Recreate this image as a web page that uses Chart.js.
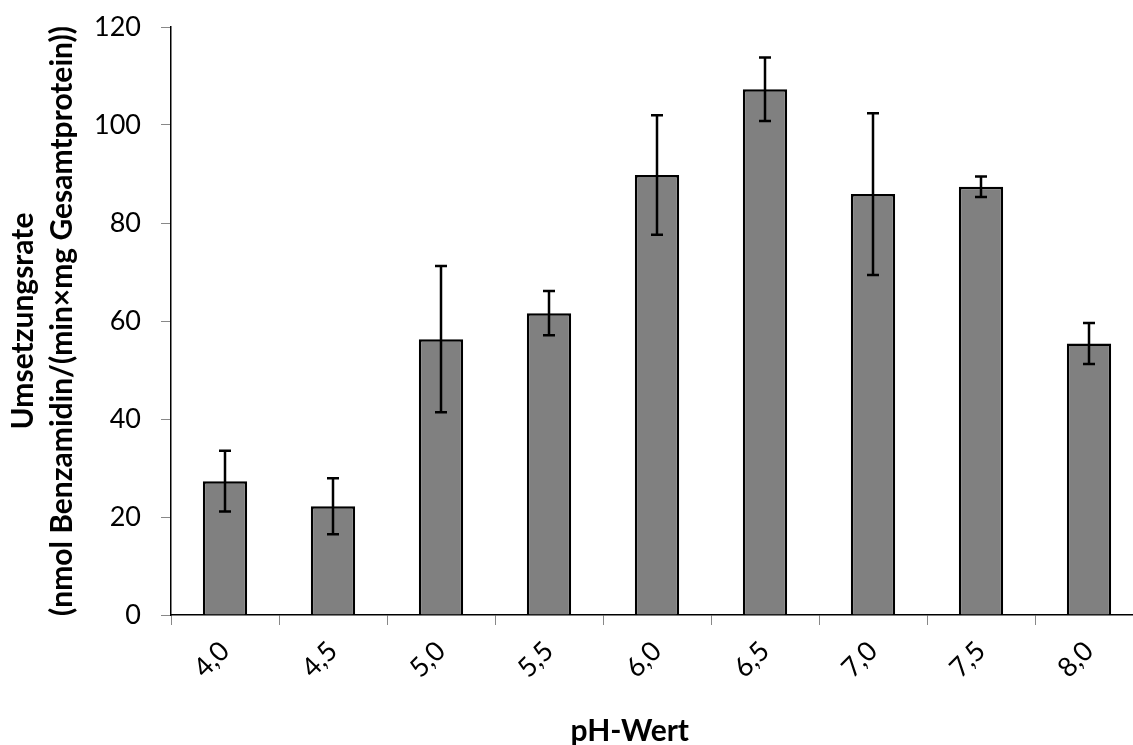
<!DOCTYPE html>
<html>
<head>
<meta charset="utf-8">
<script src="https://cdn.jsdelivr.net/npm/chart.js@4/dist/chart.umd.min.js"></script>
<style>
  html,body{margin:0;padding:0;background:#fff;overflow:hidden;}
  #c{display:block;}
</style>
</head>
<body>
<canvas id="c" width="1150" height="745" style="width:1150px;height:745px"></canvas>
<script>
/* ========= DATA ========= */
const PH     = ["4,0","4,5","5,0","5,5","6,0","6,5","7,0","7,5","8,0"];
const RATE   = [27.3, 22.2, 56.3, 61.6, 89.8, 107.3, 85.9, 87.4, 55.4];
const SD     = [6.2, 5.7, 14.9, 4.5, 12.2, 6.5, 16.5, 2.1, 4.2];
const Y_TICKS = [0, 20, 40, 60, 80, 100, 120];

const FONT = "Lato";

/* ========= ERROR BARS ========= */
const errorBars = {
  id:"errorBars",
  afterDatasetsDraw(chart){
    const {ctx, scales:{y}} = chart;
    const meta = chart.getDatasetMeta(0);
    ctx.save();
    ctx.strokeStyle = "#000";
    ctx.lineWidth = 2.5;
    meta.data.forEach((bar,i)=>{
      const hi = y.getPixelForValue(RATE[i] + SD[i]);
      const lo = y.getPixelForValue(RATE[i] - SD[i]);
      const x = bar.x, cap = 6;
      ctx.beginPath();
      ctx.moveTo(x, hi); ctx.lineTo(x, lo);
      ctx.moveTo(x-cap, hi); ctx.lineTo(x+cap, hi);
      ctx.moveTo(x-cap, lo); ctx.lineTo(x+cap, lo);
      ctx.stroke();
    });
    ctx.restore();
  }
};

/* ========= X TITLE ========= */
const xTitle = {
  id:"xTitle",
  afterDraw(chart){
    const {ctx, chartArea:a} = chart;
    ctx.save();
    ctx.font = `bold 30px ${FONT}`;
    ctx.fillStyle = "#000";
    ctx.textAlign = "center";
    ctx.textBaseline = "alphabetic";
    ctx.fillText("pH-Wert", a.left + (a.right - a.left) * 0.472, 741);
    ctx.restore();
  }
};

new Chart(document.getElementById("c"),{
  type:"bar",
  data:{
    labels:PH,
    datasets:[{
      data:RATE,
      backgroundColor:"#808080",
      borderColor:"#000",
      borderWidth:2.5,
      categoryPercentage:1,
      barPercentage:0.41
    }]
  },
  options:{
    responsive:false,
    animation:false,
    layout:{padding:{top:27,right:7,left:0,bottom:0}},
    plugins:{legend:{display:false},tooltip:{enabled:false}},
    scales:{
      x:{
        grid:{drawOnChartArea:false,color:"#888",tickLength:10,offset:true},
        border:{color:"#000",width:1.5},
        ticks:{
          color:"#000",font:{family:FONT,size:27},
          minRotation:45,maxRotation:45,padding:10
        },
        afterFit(s){ s.height = 130; s.paddingLeft = 0; s.paddingRight = 0; }
      },
      y:{
        min:0,max:120,
        afterBuildTicks(s){ s.ticks = Y_TICKS.map(v=>({value:v})); },
        grid:{drawOnChartArea:false,color:"#888",tickLength:10},
        border:{color:"#000",width:1.5},
        ticks:{color:"#000",font:{family:FONT,size:27},padding:20},
        title:{
          display:true,
          text:["Umsetzungsrate","(nmol Benzamidin/(min×mg Gesamtprotein))"],
          color:"#000",
          font:{family:FONT,size:30,weight:"bold",lineHeight:1.3},
          padding:{top:4,bottom:0}
        },
        afterFit(s){ s.width = 171; s.paddingTop = 0; s.paddingBottom = 0; }
      }
    }
  },
  plugins:[errorBars,xTitle]
});
</script>
</body>
</html>
